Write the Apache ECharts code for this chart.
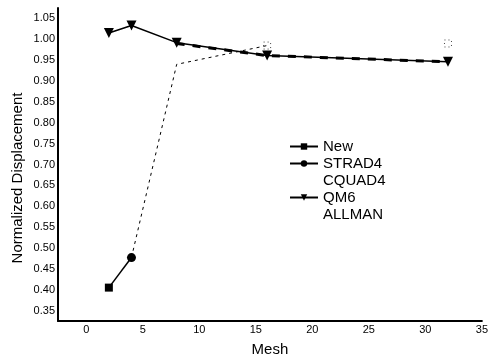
<!DOCTYPE html>
<html><head><meta charset="utf-8">
<script src="https://cdn.jsdelivr.net/npm/echarts@6/dist/echarts.min.js"></script>
<style>html,body{margin:0;padding:0;background:#fff}#c{width:491px;height:362px}</style>
</head><body><div id="c"></div>
<script>
const xTicks = [0, 5, 10, 15, 20, 25, 30, 35];
const yTicks = [0.35, 0.40, 0.45, 0.50, 0.55, 0.60, 0.65, 0.70, 0.75, 0.80, 0.85, 0.90, 0.95, 1.00, 1.05];
const newData = [[2, 0.405], [4, 0.477]];
const strad4Data = [[4, 0.477]];
const cquad4Data = [[4, 0.477], [8, 0.94], [16, 0.985], [24, '-'], [32, 0.99]];
const qm6Data = [[2, 1.015], [4, 1.033], [8, 0.992], [16, 0.961], [32, 0.946]];
const allmanData = [[8, 0.99], [16, 0.961], [32, 0.946]];
const seriesNames = ['New', 'STRAD4', 'CQUAD4', 'QM6', 'ALLMAN'];

const font = 'Liberation Sans, Arial, sans-serif';
const chart = echarts.init(document.getElementById('c'));
const hidden = {itemStyle: {opacity: 0}, lineStyle: {opacity: 0}};
chart.setOption({
  animation: false,
  backgroundColor: '#fff',
  grid: {left: 58, right: 4, top: 8, bottom: 36},
  graphic: [{
    type: 'text', x: 18, y: 178, rotation: Math.PI / 2,
    style: {text: 'Normalized Displacement', font: '15px ' + font, fill: '#000', align: 'center', verticalAlign: 'middle'}
  }],
  legend: {
    orient: 'vertical', left: 284, top: 134, itemWidth: 28, itemHeight: 8, itemGap: 2,
    textStyle: {fontFamily: font, fontSize: 15, color: '#000'},
    data: [
      {name: seriesNames[0]}, {name: seriesNames[1]},
      Object.assign({name: seriesNames[2]}, hidden),
      {name: seriesNames[3]},
      Object.assign({name: seriesNames[4]}, hidden)
    ]
  },
  xAxis: {
    type: 'value', min: -2.5, max: 35,
    name: 'Mesh', nameLocation: 'middle', nameGap: 21,
    nameTextStyle: {fontFamily: font, fontSize: 15, color: '#000'},
    axisLine: {show: true, onZero: false, lineStyle: {color: '#000', width: 2}},
    axisTick: {show: false},
    splitLine: {show: false},
    axisLabel: {customValues: xTicks, fontFamily: font, fontSize: 11, color: '#000', margin: 3, formatter: v => String(v)}
  },
  yAxis: {
    type: 'value', min: 0.325, max: 1.075,
    axisLine: {show: true, onZero: false, lineStyle: {color: '#000', width: 2}},
    axisTick: {show: false},
    splitLine: {show: false},
    axisLabel: {customValues: yTicks, fontFamily: font, fontSize: 11, color: '#000', margin: 3, formatter: v => v.toFixed(2)}
  },
  series: [
    {name: seriesNames[0], type: 'line', data: newData.map((d, i) => i === 0 ? {value: d} : {value: d, symbol: 'none'}),
      symbol: 'rect', symbolSize: 8, color: '#000', lineStyle: {color: '#000', width: 1.5}, z: 5},
    {name: seriesNames[1], type: 'line', data: strad4Data, symbol: 'circle', symbolSize: 9, color: '#000',
      lineStyle: {color: '#000', width: 1.5}, z: 5},
    {name: seriesNames[2], type: 'line', data: cquad4Data.map((d, i) => i < 2 ? {value: d, symbol: 'none'} : {value: d}),
      symbol: 'rect', symbolSize: 7, showSymbol: true,
      connectNulls: false, color: '#000',
      itemStyle: {color: 'rgba(0,0,0,0)', borderColor: '#444', borderWidth: 1, borderType: [1, 3]},
      lineStyle: {color: '#000', width: 1, type: [3, 4]}, z: 3},
    {name: seriesNames[3], type: 'line', data: qm6Data, symbol: 'triangle', symbolRotate: 180, symbolSize: 10, color: '#000',
      lineStyle: {color: '#000', width: 1.5}, z: 4},
    {name: seriesNames[4], type: 'line', data: allmanData, symbol: 'none', color: '#000',
      lineStyle: {color: '#000', width: 3, type: [8, 8]}, z: 2}
  ]
});
</script></body></html>
